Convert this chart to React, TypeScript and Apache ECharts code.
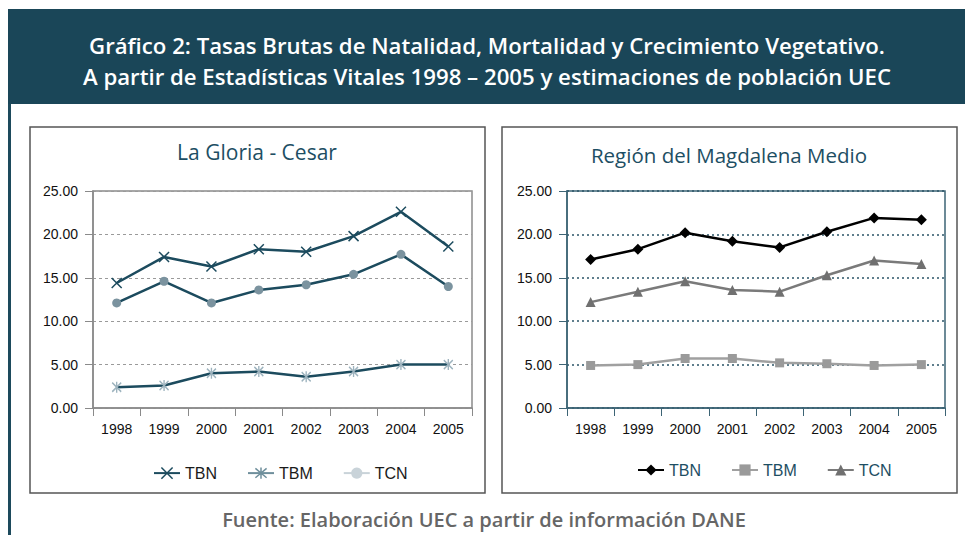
import React, { useEffect, useRef } from "react";
import * as echarts from "echarts";

const years = ["1998", "1999", "2000", "2001", "2002", "2003", "2004", "2005"];
const seriesNames = ["TBN", "TBM", "TCN"];

// La Gloria - Cesar
const gloriaTBN = [14.4, 17.4, 16.3, 18.3, 18.0, 19.8, 22.6, 18.6];
const gloriaTBM = [2.4, 2.6, 4.0, 4.2, 3.6, 4.2, 5.0, 5.0];
const gloriaTCN = [12.1, 14.6, 12.1, 13.6, 14.2, 15.4, 17.7, 14.0];

// Región del Magdalena Medio
const magdaTBN = [17.1, 18.3, 20.2, 19.2, 18.5, 20.3, 21.9, 21.7];
const magdaTBM = [4.9, 5.0, 5.7, 5.7, 5.2, 5.1, 4.9, 5.0];
const magdaTCN = [12.2, 13.4, 14.6, 13.6, 13.4, 15.3, 17.0, 16.6];

const headerLine1 = "Gráfico 2: Tasas Brutas de Natalidad, Mortalidad y Crecimiento Vegetativo.";
const headerLine2 = "A partir de Estadísticas Vitales 1998 – 2005 y estimaciones de población UEC";
const leftTitle = "La Gloria - Cesar";
const rightTitle = "Región del Magdalena Medio";
const footer = "Fuente: Elaboración UEC a partir de información DANE";

const FONT = "'Liberation Sans', Arial, sans-serif";
const TFONT = "'Open Sans', Roboto, 'Liberation Sans', sans-serif";
const TEAL = "#1c4b5e";
const X_SYM = "path://M0,0L10,10M10,0L0,10";
const AST_SYM = "path://M0,1L10,11M10,1L0,11M5,0L5,12";

export default function App() {
  const ref = useRef<HTMLDivElement>(null);
  useEffect(() => {
    if (!ref.current) return;
    const chart = echarts.init(ref.current, undefined, { renderer: "svg" });

    const yAxisBase = (axisColor: string, splitColor: string, dash: number[], splitW: number, gi: number) => ({
      type: "value",
      gridIndex: gi,
      min: 0,
      max: 25,
      interval: 5,
      axisLine: { show: true, lineStyle: { color: axisColor, width: 1.5 } },
      axisTick: { show: true, length: 8, lineStyle: { color: axisColor, width: 1 } },
      axisLabel: {
        formatter: (v: number) => v.toFixed(2),
        fontSize: 14,
        color: "#111",
        fontFamily: FONT,
        margin: 15,
      },
      splitLine: { show: true, lineStyle: { color: splitColor, type: dash, width: splitW } },
    });

    const xAxisBase = (axisColor: string, gi: number) => ({
      type: "category",
      gridIndex: gi,
      data: years,
      boundaryGap: true,
      axisLine: { show: true, lineStyle: { color: axisColor, width: 1.5 } },
      axisTick: { show: true, length: 8, alignWithLabel: false, lineStyle: { color: axisColor, width: 1 } },
      axisLabel: { fontSize: 14, color: "#111", fontFamily: FONT, margin: 14 },
      splitLine: { show: false },
    });

    const option: any = {
      animation: false,
      backgroundColor: "#ffffff",
      grid: [
        { left: 93, top: 191, width: 379, height: 217, show: true, borderColor: "#8a8a8a", borderWidth: 1.5, backgroundColor: "transparent" },
        { left: 567, top: 191, width: 378, height: 217, show: true, borderColor: "#3d6475", borderWidth: 1.5, backgroundColor: "transparent" },
      ],
      xAxis: [xAxisBase("#8a8a8a", 0), xAxisBase("#3d6475", 1)],
      yAxis: [
        yAxisBase("#8a8a8a", "#9a9a9a", [3, 3], 1.2, 0),
        yAxisBase("#3d6475", "#2c5668", [2, 3], 1.5, 1),
      ],
      legend: [
        {
          left: 148,
          top: 460,
          itemWidth: 26,
          itemHeight: 14,
          itemGap: 30,
          textStyle: { fontSize: 16, color: "#1a1a1a", fontFamily: FONT },
          data: [
            { name: "TBN", itemStyle: { color: "none", borderColor: TEAL, borderWidth: 1.5 }, lineStyle: { color: TEAL, width: 2 } },
            { name: "TBM", itemStyle: { color: "none", borderColor: "#6f8f9c", borderWidth: 1.5 }, lineStyle: { color: "#6f8f9c", width: 2 } },
            { name: "TCN", itemStyle: { color: "#c9d3d9", borderWidth: 0 }, lineStyle: { color: "#c9d3d9", width: 2 } },
          ],
        },
        {
          left: 632,
          top: 457,
          itemWidth: 26,
          itemHeight: 14,
          itemGap: 30,
          textStyle: { fontSize: 16, color: "#1d4e63", fontFamily: FONT },
          data: [
            { name: "TBN ", itemStyle: { color: "#000" }, lineStyle: { color: "#000", width: 2 } },
            { name: "TBM ", itemStyle: { color: "#9a9a9a" }, lineStyle: { color: "#a0a0a0", width: 2 } },
            { name: "TCN ", itemStyle: { color: "#707070" }, lineStyle: { color: "#7a7a7a", width: 2 } },
          ],
          formatter: (n: string) => n.trim(),
        },
      ],
      series: [
        {
          name: seriesNames[0], type: "line", xAxisIndex: 0, yAxisIndex: 0, data: gloriaTBN,
          symbol: X_SYM, symbolSize: 10, showAllSymbol: true,
          lineStyle: { color: TEAL, width: 2.5 },
          itemStyle: { color: "none", borderColor: TEAL, borderWidth: 1.5 },
        },
        {
          name: seriesNames[1], type: "line", xAxisIndex: 0, yAxisIndex: 0, data: gloriaTBM,
          symbol: AST_SYM, symbolSize: [9, 11], showAllSymbol: true,
          lineStyle: { color: TEAL, width: 2.5 },
          itemStyle: { color: "none", borderColor: "#9db3be", borderWidth: 1.5 },
        },
        {
          name: seriesNames[2], type: "line", xAxisIndex: 0, yAxisIndex: 0, data: gloriaTCN,
          symbol: "circle", symbolSize: 9, showAllSymbol: true,
          lineStyle: { color: TEAL, width: 2.5 },
          itemStyle: { color: "#7b939f", borderWidth: 0 },
        },
        {
          name: "TBN ", type: "line", xAxisIndex: 1, yAxisIndex: 1, data: magdaTBN,
          symbol: "diamond", symbolSize: 11, showAllSymbol: true,
          lineStyle: { color: "#000", width: 2.5 },
          itemStyle: { color: "#000" },
        },
        {
          name: "TBM ", type: "line", xAxisIndex: 1, yAxisIndex: 1, data: magdaTBM,
          symbol: "rect", symbolSize: 9, showAllSymbol: true,
          lineStyle: { color: "#a0a0a0", width: 2.5 },
          itemStyle: { color: "#9a9a9a" },
        },
        {
          name: "TCN ", type: "line", xAxisIndex: 1, yAxisIndex: 1, data: magdaTCN,
          symbol: "triangle", symbolSize: 10, showAllSymbol: true,
          lineStyle: { color: "#7a7a7a", width: 2.5 },
          itemStyle: { color: "#707070" },
        },
      ],
      graphic: [
        { type: "rect", shape: { x: 8, y: 9, width: 957, height: 95 }, style: { fill: "#1a4658" } },
        { type: "rect", shape: { x: 8, y: 104, width: 3, height: 431 }, style: { fill: "#1d4a5c" } },
        {
          type: "text", x: 487, y: 45,
          style: { text: headerLine1, fill: "#ffffff", font: `600 22.2px ${TFONT}`, textAlign: "center", textVerticalAlign: "middle" },
        },
        {
          type: "text", x: 487, y: 76,
          style: { text: headerLine2, fill: "#ffffff", font: `600 22.2px ${TFONT}`, textAlign: "center", textVerticalAlign: "middle" },
        },
        { type: "rect", shape: { x: 30, y: 127, width: 455, height: 366 }, style: { fill: "none", stroke: "#555", lineWidth: 1.5 } },
        { type: "rect", shape: { x: 502, y: 127, width: 455, height: 366 }, style: { fill: "none", stroke: "#555", lineWidth: 1.5 } },
        {
          type: "text", x: 257, y: 152,
          style: { text: leftTitle, fill: "#1d4e63", font: `normal 21px ${TFONT}`, textAlign: "center", textVerticalAlign: "middle" },
        },
        {
          type: "text", x: 729, y: 155,
          style: { text: rightTitle, fill: "#1d4e63", font: `normal 20.5px ${TFONT}`, textAlign: "center", textVerticalAlign: "middle" },
        },
        {
          type: "text", x: 484, y: 519,
          style: { text: footer, fill: "#666666", font: `600 20px ${TFONT}`, textAlign: "center", textVerticalAlign: "middle" },
        },
      ],
    };

    chart.setOption(option);
    return () => chart.dispose();
  }, []);

  return <div ref={ref} style={{ position: "fixed", left: 0, top: 0, width: 965, height: 535 }} />;
}
